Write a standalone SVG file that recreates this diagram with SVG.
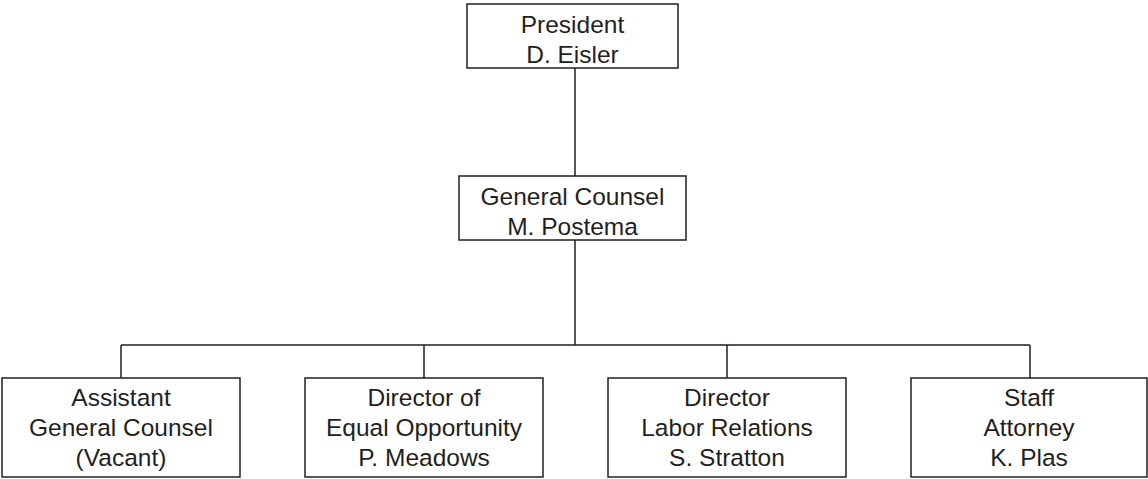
<svg xmlns="http://www.w3.org/2000/svg" width="1148" height="479" viewBox="0 0 1148 479">
<style>
.box{fill:#fff;stroke:#231f20;stroke-width:1.5}
.t{font-family:"Liberation Sans",Arial,sans-serif;font-size:24.5px;fill:#231f20;text-anchor:middle}
.c{fill:none;stroke:#231f20;stroke-width:1.5}
</style>
<rect width="1148" height="479" fill="#fff"/>
<g id="connectors">
<path class="c" d="M575 68V176M575 240V345M121 345H1030M121 345V378M424 345V378M727 345V378M1030 345V378"/>
</g>
<g id="president">
<rect class="box" x="467" y="4" width="211" height="64"/>
<text class="t" x="572.5" y="33">President</text>
<text class="t" x="572.5" y="63">D. Eisler</text>
</g>
<g id="general-counsel">
<rect class="box" x="459" y="176" width="227" height="64"/>
<text class="t" x="572.5" y="205">General Counsel</text>
<text class="t" x="572.5" y="235">M. Postema</text>
</g>
<g id="assistant">
<rect class="box" x="2" y="378" width="238" height="99"/>
<text class="t" x="121" y="406">Assistant</text>
<text class="t" x="121" y="436">General Counsel</text>
<text class="t" x="121" y="466">(Vacant)</text>
</g>
<g id="equal-opportunity">
<rect class="box" x="305" y="378" width="238" height="99"/>
<text class="t" x="424" y="406">Director of</text>
<text class="t" x="424" y="436">Equal Opportunity</text>
<text class="t" x="424" y="466">P. Meadows</text>
</g>
<g id="labor-relations">
<rect class="box" x="608" y="378" width="238" height="99"/>
<text class="t" x="727" y="406">Director</text>
<text class="t" x="727" y="436">Labor Relations</text>
<text class="t" x="727" y="466">S. Stratton</text>
</g>
<g id="staff-attorney">
<rect class="box" x="911" y="378" width="236" height="99"/>
<text class="t" x="1029" y="406">Staff</text>
<text class="t" x="1029" y="436">Attorney</text>
<text class="t" x="1029" y="466">K. Plas</text>
</g>
</svg>
